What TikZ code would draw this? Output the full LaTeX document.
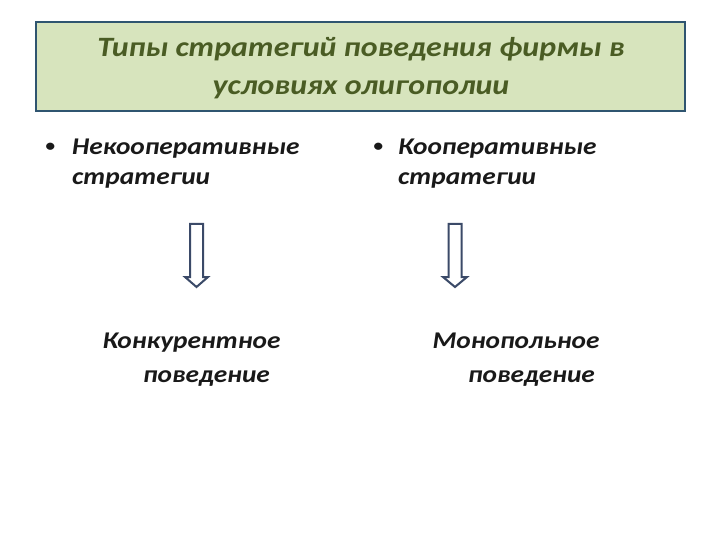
\documentclass[tikz,border=0pt]{standalone}
\usepackage{fontspec}
\setmainfont{Carlito}[FakeStretch=1.14]
\usepackage{xcolor}
\definecolor{titlefill}{HTML}{D7E4BD}
\definecolor{titleline}{HTML}{2F5570}
\definecolor{titletext}{HTML}{4A5C24}
\definecolor{arrowline}{HTML}{3B4A68}
\newcommand{\slidedot}{\raisebox{3pt}{\fontsize{17}{17}\selectfont •}}

\begin{document}
\begin{tikzpicture}[x=1pt,y=-1pt,
    titlebox/.style={draw=titleline,line width=1.3pt,fill=titlefill},
    titletxt/.style={align=center,anchor=base,inner sep=0pt,text=titletext,font=\fontsize{28}{38}\selectfont\bfseries\itshape},
    bullettxt/.style={align=left,anchor=base west,inner sep=0pt,text=black!90,font=\fontsize{24}{30}\selectfont\bfseries\itshape},
    resulttxt/.style={align=center,anchor=base,inner sep=0pt,text=black!90,font=\fontsize{24}{34}\selectfont\bfseries\itshape},
    hollowarrow/.style={draw=arrowline,line width=2pt,fill=white,line join=miter}]
            \useasboundingbox (0,0) rectangle (720,540);
            \draw[titlebox] (36,22) rectangle (685,111);
            \node[titletxt] (title) at (361,95) {Типы стратегий поведения фирмы в\\условиях олигополии};
            % strategies
            \node[bullettxt] (noncoop) at (72,185) {\llap{\makebox[44pt][c]{\slidedot}}Некооперативные\\стратегии};
            \node[bullettxt] (coop) at (398,185) {\llap{\makebox[40pt][c]{\slidedot}}Кооперативные\\стратегии};
            % behaviour
            \node[resulttxt] (compete) at (191.5,382) {Конкурентное\\\hspace*{30pt}поведение};
            \node[resulttxt] (monopoly) at (516,382) {Монопольное\\\hspace*{31pt}поведение};
            % arrows
            \coordinate (arrL) at (196.5,224);
            \coordinate (arrR) at (455,224);
            \draw[hollowarrow] (arrL) ++(-6.5,0) -- ++(0,53) -- ++(-5,0) -- ++(11.5,10) -- ++(11.5,-10) -- ++(-5,0) -- ++(0,-53) -- cycle;
            \draw[hollowarrow] (arrR) ++(-6.5,0) -- ++(0,53) -- ++(-5.5,0) -- ++(12,10) -- ++(12,-10) -- ++(-5.5,0) -- ++(0,-53) -- cycle;
\end{tikzpicture}
\end{document}
